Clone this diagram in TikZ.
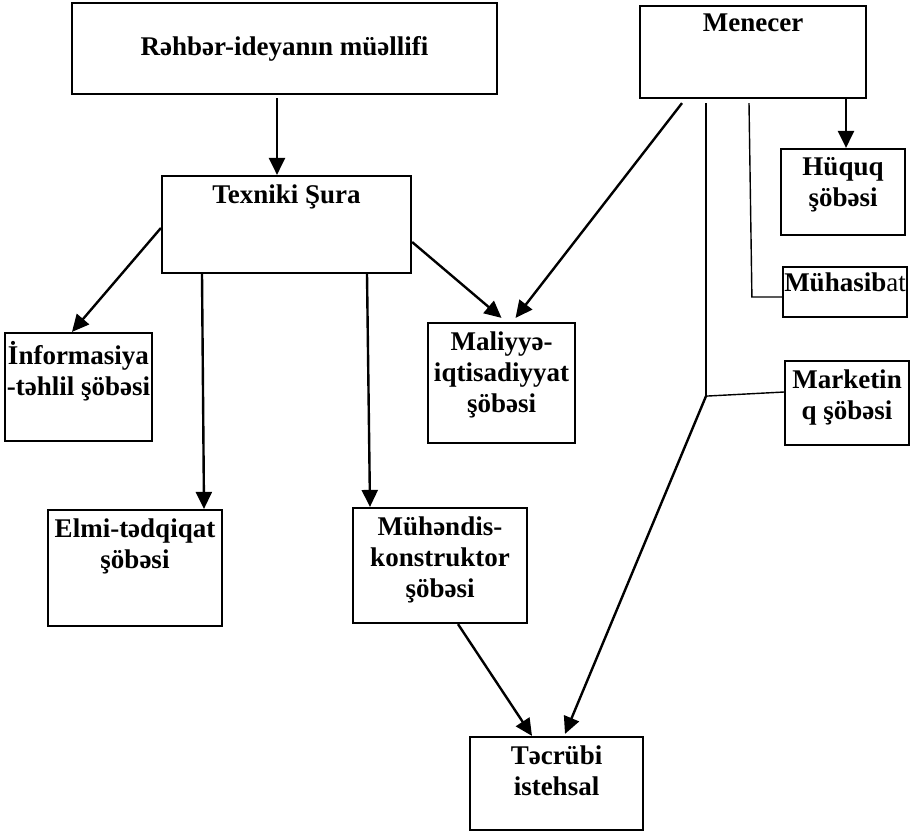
\documentclass[tikz,border=0pt]{standalone}
\usepackage{fontspec}
\setmainfont{Liberation Serif}
\usetikzlibrary{arrows.meta, positioning, calc}
\tikzset{
	dept/.style={rectangle, draw, line width=1.1pt, inner sep=0pt},
	deptfont/.style={font=\fontsize{13.5}{15.5}\selectfont\bfseries},
	caption/.style={deptfont, anchor=north, align=center, inner sep=4.5pt},
	link/.style={draw, line width=1.2pt},
	arrow/.style={link, -{Triangle[length=8.5pt, width=8pt]}},
	thinlink/.style={draw, line width=0.7pt}
}

\begin{document}
\begin{tikzpicture}[x=0.5pt, y=-0.5pt]
	\useasboundingbox (0,0) rectangle (913,832);
	
	% Top row
	\node[dept, deptfont, minimum width=212.5pt, minimum height=45.5pt] (leader) at (284.5,48.5) {Rəhbər-ideyanın müəllifi};
	\node[dept, minimum width=113pt, minimum height=46pt, label={[caption]above:{Menecer}}] (manager) at (753,52) {};
	
	% Council and its departments
	\node[dept, minimum width=124.5pt, minimum height=48.5pt, label={[caption]above:{Texniki Şura}}] (council) at (286.5,224.5) {};
	\node[dept, minimum width=73.5pt, minimum height=54pt, label={[caption]above:{İnformasiya\\-təhlil şöbəsi}}] (info) at (78.5,387) {};
	\node[dept, minimum width=73.5pt, minimum height=60pt, label={[caption]above:{Maliyyə-\\iqtisadiyyat\\şöbəsi}}] (finance) at (501.5,383) {};
	\node[dept, minimum width=87pt, minimum height=58pt, label={[caption]above:{Elmi-tədqiqat\\şöbəsi}}] (research) at (135,568) {};
	\node[dept, minimum width=87pt, minimum height=57.5pt, label={[caption]above:{Mühəndis-\\konstruktor\\şöbəsi}}] (engineering) at (440,565.5) {};
	\node[dept, minimum width=86.5pt, minimum height=46.5pt, label={[caption]above:{Təcrübi\\istehsal}}] (pilot) at (556.5,783.5) {};
	
	% Manager column (right)
	\node[dept, minimum width=62pt, minimum height=43pt, label={[caption]above:{Hüquq\\şöbəsi}}] (law) at (843,192) {};
	\node[dept, minimum width=62pt, minimum height=25pt, label={[caption, inner sep=3pt]above:{Mühasib\textmd{at}}}] (accounting) at (845,292) {};
	\node[dept, minimum width=62pt, minimum height=42pt, label={[caption]above:{Marketin\\q şöbəsi}}] (marketing) at (847,403) {};
	
	% arrows from the leader and the council
	\draw[arrow] ($(leader.south)+(-7.5,3)$) -- ($(council.north)+(-9.5,0)$);
	\draw[arrow] ($(council.west)+(0,3.5)$) -- ($(info.north)+(-6.5,0)$);
	\draw[arrow] ($(council.south)+(-84.5,0)$) -- ($(research.north)+(69,0)$);
	\draw[arrow] ($(council.south)+(80.5,0)$) -- ($(engineering.north)+(-70,0)$);
	\draw[arrow] ($(council.east)+(0,17.5)$) -- ($(finance.north)+(0,-4)$);
	\draw[arrow] ($(engineering.south)+(18,0)$) -- ($(pilot.north)+(-24.5,0)$);
	
	% manager links
	\draw[arrow] ($(manager.south)+(-71,4)$) -- ($(finance.north)+(14,-4)$);
	\draw[arrow] ($(manager.south)+(93,0)$) -- ($(law.north)+(3,0)$);
	
	\coordinate (ledger_corner) at ($(accounting.west)+(-30,5)$);
	\draw[thinlink] ($(manager.south)+(-4,4)$) -- (ledger_corner) -- ($(accounting.west)+(0,5)$);
	
	\coordinate (branch) at ($(manager.south)+(-47,297)$);
	\draw[thinlink] ($(manager.south)+(-47,4)$) -- (branch);
	\draw[thinlink] (branch) -- ($(marketing.west)+(0,-11)$);
	\draw[arrow] (branch) -- ($(pilot.north)+(8.5,-2)$);
	
\end{tikzpicture}
\end{document}
